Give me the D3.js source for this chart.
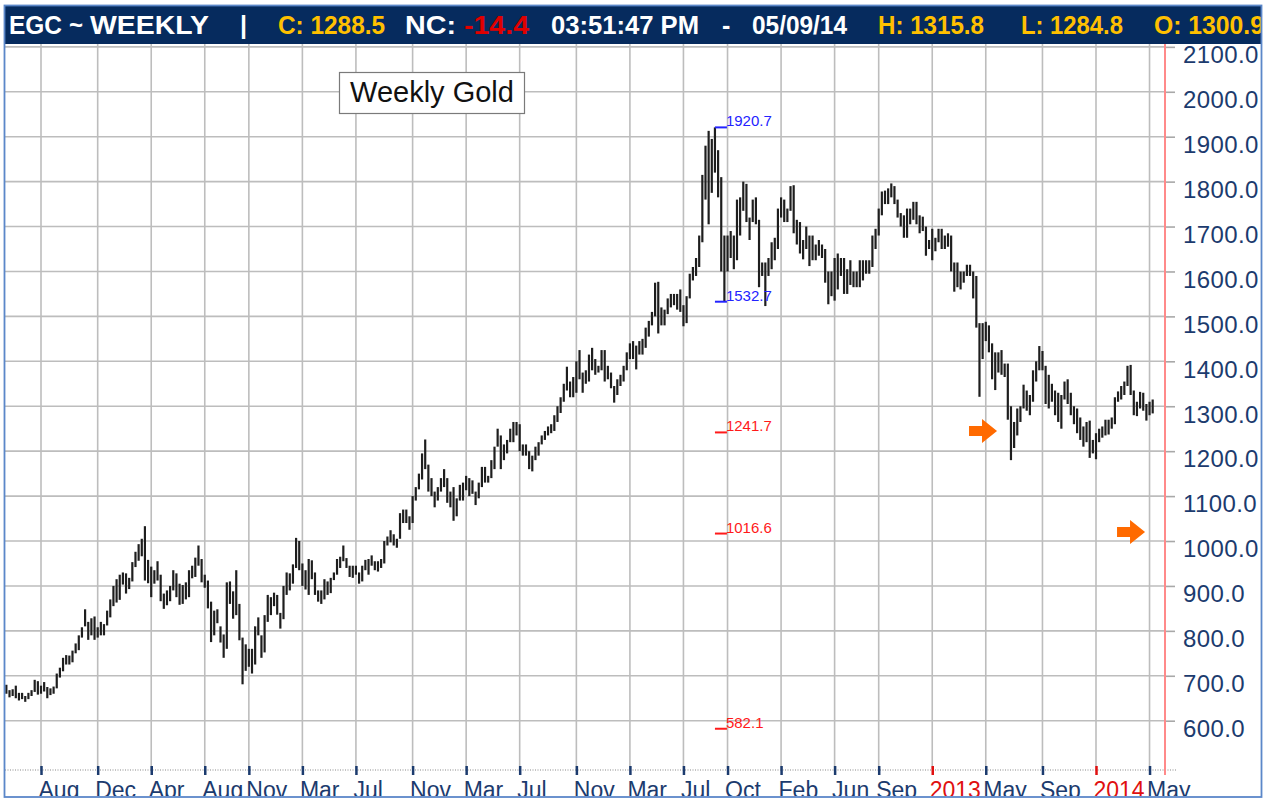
<!DOCTYPE html>
<html>
<head>
<meta charset="utf-8">
<script src="https://cdn.jsdelivr.net/npm/d3@7"></script>
<style>
  body { margin: 0; background: #fff; }
  svg { display: block; font-family: "Liberation Sans", Arial, sans-serif; }
</style>
</head>
<body>
<svg id="chart" width="1266" height="801"></svg>
<script>
// weekly bars, one per Friday from 2007-05-18 to 2014-05-09
var firstWeek = new Date(2007, 4, 18);
var lastWeek = new Date(2014, 4, 10);

// weekly highs
var weekHigh = [
  // 2007
  680,668,670,678,662,662,655,662,668,691,688,678,686,675,672,676,705,718,740,746,745,756,772,790,808,848,820,828,832,808,820,815,845,
  // 2008
  870,900,915,925,930,928,918,953,976,993,1005,1033,958,943,935,955,925,883,890,900,935,928,905,902,908,935,945,963,990,960,925,912,865,845,848,810,792,908,910,888,935,860,785,770,760,760,810,830,790,835,880,875,
  // 2009
  885,880,840,900,930,928,948,1007,1000,950,935,960,957,930,890,890,915,910,918,930,960,965,990,962,945,945,945,930,945,958,960,968,955,955,960,1000,1010,1024,1015,1005,1062,1070,1070,1055,1100,1120,1150,1195,1226,1170,1140,1110,
  // 2010
  1120,1140,1160,1140,1110,1120,1095,1125,1130,1145,1140,1135,1110,1130,1165,1165,1145,1180,1210,1250,1235,1215,1225,1250,1265,1265,1260,1215,1215,1200,1190,1210,1220,1235,1245,1255,1260,1280,1300,1320,1350,1388,1355,1365,1400,1425,1375,1380,1415,1430,1405,1390,1425,
  // 2011
  1425,1390,1375,1345,1360,1370,1390,1420,1440,1445,1435,1445,1450,1475,1490,1510,1575,1577,1520,1515,1540,1550,1550,1550,1560,1525,1545,1595,1610,1630,1680,1815,1880,1913,1895,1920.7,1870,1810,1680,1680,1690,1680,1760,1765,1800,1795,1720,1760,1765,1715,1620,1620,
  // 2012
  1630,1665,1675,1740,1765,1760,1740,1790,1792,1715,1710,1670,1700,1680,1680,1660,1670,1660,1650,1600,1600,1630,1640,1630,1630,1605,1625,1600,1600,1625,1625,1625,1625,1680,1695,1740,1778,1780,1785,1796,1790,1760,1730,1725,1740,1740,1755,1755,1725,1722,1700,1670,
  // 2013
  1695,1675,1695,1695,1680,1685,1680,1620,1620,1600,1600,1615,1615,1600,1590,1485,1485,1488,1480,1440,1420,1420,1425,1395,1395,1300,1265,1295,1300,1348,1335,1325,1380,1400,1434,1423,1390,1370,1350,1335,1330,1325,1355,1360,1330,1300,1295,1275,1255,1265,1268,1225,
  // 2014
  1240,1250,1255,1270,1270,1275,1320,1333,1345,1355,1390,1392,1335,1310,1332,1330,1305,1310,1315
];

// weekly lows
var weekLow = [
  // 2007
  660,652,655,650,645,648,642,648,655,664,658,660,665,650,657,660,672,696,710,725,725,730,750,757,785,810,780,790,780,785,790,790,812,
  // 2008
  830,855,863,869,903,883,893,910,942,956,966,912,906,875,905,912,866,849,857,866,890,875,858,860,870,875,917,920,945,908,896,850,775,790,817,774,740,760,860,827,835,779,681,711,720,705,725,790,740,752,820,835,
  // 2009
  855,836,805,826,880,890,905,940,935,900,892,880,915,880,865,860,870,880,884,913,925,940,955,940,920,918,925,905,910,935,925,945,935,932,940,950,990,997,990,985,1005,1040,1040,1025,1040,1090,1115,1137,1160,1110,1100,1075,
  // 2010
  1090,1110,1120,1085,1075,1045,1055,1090,1090,1113,1100,1105,1080,1095,1120,1130,1130,1140,1160,1210,1160,1180,1195,1220,1220,1235,1200,1190,1190,1160,1155,1180,1190,1215,1225,1235,1240,1245,1265,1285,1310,1335,1320,1320,1330,1360,1330,1350,1355,1380,1370,1375,1380,
  // 2011
  1355,1360,1340,1308,1325,1345,1355,1380,1405,1405,1382,1415,1415,1430,1455,1480,1500,1462,1480,1480,1505,1520,1525,1515,1510,1478,1485,1540,1580,1590,1610,1665,1760,1705,1775,1820,1765,1600,1532.7,1600,1630,1605,1625,1680,1735,1710,1670,1710,1705,1565,1590,1523,
  // 2012
  1590,1605,1625,1650,1720,1710,1710,1735,1685,1660,1640,1627,1650,1612,1625,1625,1635,1630,1575,1527,1545,1535,1560,1590,1550,1550,1570,1565,1565,1565,1580,1595,1595,1610,1650,1680,1725,1750,1750,1765,1750,1720,1700,1675,1675,1705,1715,1705,1685,1690,1635,1650,
  // 2013
  1625,1645,1665,1650,1650,1655,1600,1555,1565,1560,1575,1590,1590,1540,1475,1321,1405,1445,1420,1360,1336,1375,1370,1365,1270,1180,1207,1235,1265,1295,1290,1280,1310,1355,1380,1380,1305,1295,1310,1280,1265,1250,1315,1305,1280,1260,1240,1225,1210,1220,1185,1195,
  // 2014
  1182,1220,1230,1235,1237,1250,1260,1310,1315,1325,1345,1325,1280,1278,1295,1290,1268,1280,1284
];

// month ticks on the time axis (first Friday of the month)
var tickDates = ["2007-08-03","2007-12-07","2008-04-04","2008-08-01","2008-11-07","2009-03-06","2009-07-03",
  "2009-11-06","2010-03-05","2010-07-02","2010-11-05","2011-03-04","2011-07-01","2011-10-07","2012-02-03",
  "2012-06-01","2012-09-07","2013-01-04","2013-05-03","2013-09-06","2014-01-03","2014-05-02"];
var tickLabels = ["Aug","Dec","Apr","Aug","Nov","Mar","Jul","Nov","Mar","Jul","Nov","Mar","Jul","Oct",
  "Feb","Jun","Sep","2013","May","Sep","2014","May"];

var priceTicks = [600,700,800,900,1000,1100,1200,1300,1400,1500,1600,1700,1800,1900,2000,2100];

// marked levels: blue = swing high/low, red = projected levels
var levelValues = [1920.7, 1532.7, 1241.7, 1016.6, 582.1];
var levelColors = ["#2323ff", "#2323ff", "#ff1a1a", "#ff1a1a", "#ff1a1a"];
var levelDate = "2011-09-09";

// orange arrows pointing at the targets
var arrowTips = ["2013-05-28", "2014-04-22"];
var arrowValues = [1241.7, 1016.6];

// quote header (x = left edge, w = drawn width)
var headerParts = [
  { text: "EGC", color: "#fff", x: 9, w: 53 },
  { text: "~", color: "#fff", x: 69, w: 14 },
  { text: "WEEKLY", color: "#fff", x: 90, w: 119 },
  { text: "|", color: "#fff", x: 240, w: 0 },
  { text: "C: 1288.5", color: "#ffc000", x: 278, w: 107 },
  { text: "NC:", color: "#fff", x: 405, w: 51 },
  { text: "-14.4", color: "#e00000", x: 464, w: 65 },
  { text: "03:51:47 PM", color: "#fff", x: 551, w: 148 },
  { text: "-", color: "#fff", x: 722, w: 0 },
  { text: "05/09/14", color: "#fff", x: 752, w: 95 },
  { text: "H: 1315.8", color: "#ffc000", x: 878, w: 106 },
  { text: "L: 1284.8", color: "#ffc000", x: 1021, w: 102 },
  { text: "O: 1300.9", color: "#ffc000", x: 1154, w: 110 }
];

var parseDay = d3.timeParse("%Y-%m-%d");
var weeks = d3.timeFriday.range(firstWeek, lastWeek);
var bars = weeks.map(function(d, i) {
  return { date: d, high: weekHigh[i], low: weekLow[i] };
});

var svg = d3.select("#chart");
var navy = "#1c3b6e";

var x = d3.scaleTime()
  .domain([new Date(2007, 7, 3), new Date(2014, 0, 3)])
  .range([41, 1096]);

var y = d3.scaleLinear()
  .domain([600, 1900])
  .range([720.7, 136.7]);

var plotTop = 44, plotBottom = 769, plotLeft = 5, markerX = 1165;

svg.append("clipPath").attr("id", "frame")
  .append("rect").attr("x", 5).attr("y", 5).attr("width", 1256).attr("height", 791);

var root = svg.append("g").attr("clip-path", "url(#frame)");

// horizontal grid
root.append("g")
  .selectAll("line")
  .data(priceTicks)
  .enter()
  .append("line")
  .attr("x1", plotLeft)
  .attr("x2", markerX)
  .attr("y1", function(d) { return y(d); })
  .attr("y2", function(d) { return y(d); })
  .attr("stroke", "#bdbdbd")
  .attr("stroke-width", 1.6);

// vertical grid
root.append("g")
  .selectAll("line")
  .data(tickDates)
  .enter()
  .append("line")
  .attr("x1", function(d) { return x(parseDay(d)); })
  .attr("x2", function(d) { return x(parseDay(d)); })
  .attr("y1", plotTop)
  .attr("y2", plotBottom)
  .attr("stroke", "#bdbdbd")
  .attr("stroke-width", 1.6);

// dotted baseline
root.append("line")
  .attr("x1", plotLeft).attr("x2", 1176)
  .attr("y1", plotBottom + 1).attr("y2", plotBottom + 1)
  .attr("stroke", "#b0b0b0")
  .attr("stroke-width", 1.5)
  .attr("stroke-dasharray", "1,1.5");

// y axis on the right
var yAxis = root.append("g")
  .attr("transform", "translate(" + markerX + ",0)")
  .call(d3.axisRight(y).tickValues(priceTicks).tickSize(10).tickPadding(8).tickFormat(d3.format(".1f")));
yAxis.select(".domain").remove();
yAxis.selectAll(".tick line").attr("stroke", "#a8a8a8").attr("stroke-width", 1.6);
yAxis.selectAll(".tick text")
  .attr("fill", navy)
  .style("font-size", "24px")
  .style("letter-spacing", "0.4px")
  .attr("dy", "0.45em")
  .attr("transform", "translate(0,5)");

// x axis
var xAxis = root.append("g")
  .attr("transform", "translate(0," + (plotBottom - 3) + ")")
  .call(d3.axisBottom(x)
    .tickValues(tickDates.map(parseDay))
    .tickSize(9)
    .tickPadding(7)
    .tickFormat(function(d, i) { return tickLabels[i]; }));
xAxis.select(".domain").remove();
xAxis.selectAll(".tick line")
  .attr("stroke", function(d, i) { return /^20/.test(tickLabels[i]) ? "#e01010" : navy; })
  .attr("stroke-width", 2.5);
xAxis.selectAll(".tick text")
  .attr("fill", function(d, i) { return /^20/.test(tickLabels[i]) ? "#e01010" : navy; })
  .attr("text-anchor", "start")
  .attr("dx", -3)
  .style("font-size", "23px");

// current-date marker
root.append("line")
  .attr("x1", markerX).attr("x2", markerX)
  .attr("y1", plotTop).attr("y2", plotBottom + 6)
  .attr("stroke", "#ff8a8a")
  .attr("stroke-width", 2);

// weekly bars
root.append("g")
  .selectAll("line")
  .data(bars)
  .enter()
  .append("line")
  .attr("x1", function(d) { return x(d.date); })
  .attr("x2", function(d) { return x(d.date); })
  .attr("y1", function(d) { return y(d.high); })
  .attr("y2", function(d) { return y(d.low); })
  .attr("stroke", "#1e1e1e")
  .attr("stroke-width", 2.2);

// level marks
var lx = x(parseDay(levelDate));
var levels = root.append("g");
levels.selectAll("line")
  .data(levelValues)
  .enter()
  .append("line")
  .attr("x1", lx).attr("x2", lx + 12)
  .attr("y1", function(d) { return y(d); })
  .attr("y2", function(d) { return y(d); })
  .attr("stroke", function(d, i) { return levelColors[i]; })
  .attr("stroke-width", 2);
levels.selectAll("text")
  .data(levelValues)
  .enter()
  .append("text")
  .attr("x", lx + 11)
  .attr("y", function(d) { return y(d) - 1; })
  .attr("fill", function(d, i) { return levelColors[i]; })
  .style("font-size", "15px")
  .text(function(d) { return d3.format(".1f")(d); });

// arrows
root.append("g")
  .selectAll("path")
  .data(arrowTips)
  .enter()
  .append("path")
  .attr("transform", function(d, i) {
    return "translate(" + x(parseDay(d)) + "," + (y(arrowValues[i]) - 1.5) + ")";
  })
  .attr("d", "M0,0 L-15,-12 L-15,-5 L-28,-5 L-28,5 L-15,5 L-15,12 Z")
  .attr("fill", "#ff6a00");

// title box
root.append("rect")
  .attr("x", 339.5).attr("y", 72.5)
  .attr("width", 185).attr("height", 41)
  .attr("fill", "#fff")
  .attr("stroke", "#7a7a7a")
  .attr("stroke-width", 1.2);
root.append("text")
  .attr("x", 432).attr("y", 102)
  .attr("text-anchor", "middle")
  .attr("fill", "#111")
  .style("font-size", "29px")
  .text("Weekly Gold");

// header band
root.append("rect")
  .attr("x", 5).attr("y", 6)
  .attr("width", 1257).attr("height", 38)
  .attr("fill", "#062b5e");
var head = root.append("g")
  .selectAll("text")
  .data(headerParts)
  .enter()
  .append("text")
  .attr("x", function(d) { return d.x; })
  .attr("y", 34)
  .attr("fill", function(d) { return d.color; })
  .style("font-size", "25px")
  .style("font-weight", "bold")
  .text(function(d) { return d.text; });
head.filter(function(d) { return d.w > 0; })
  .attr("textLength", function(d) { return d.w; })
  .attr("lengthAdjust", "spacingAndGlyphs");

// outer frame
svg.append("rect")
  .attr("x", 4.5).attr("y", 5.5)
  .attr("width", 1257).attr("height", 791.5)
  .attr("fill", "none")
  .attr("stroke", "#5b87c9")
  .attr("stroke-width", 1.8);
</script>
</body>
</html>
